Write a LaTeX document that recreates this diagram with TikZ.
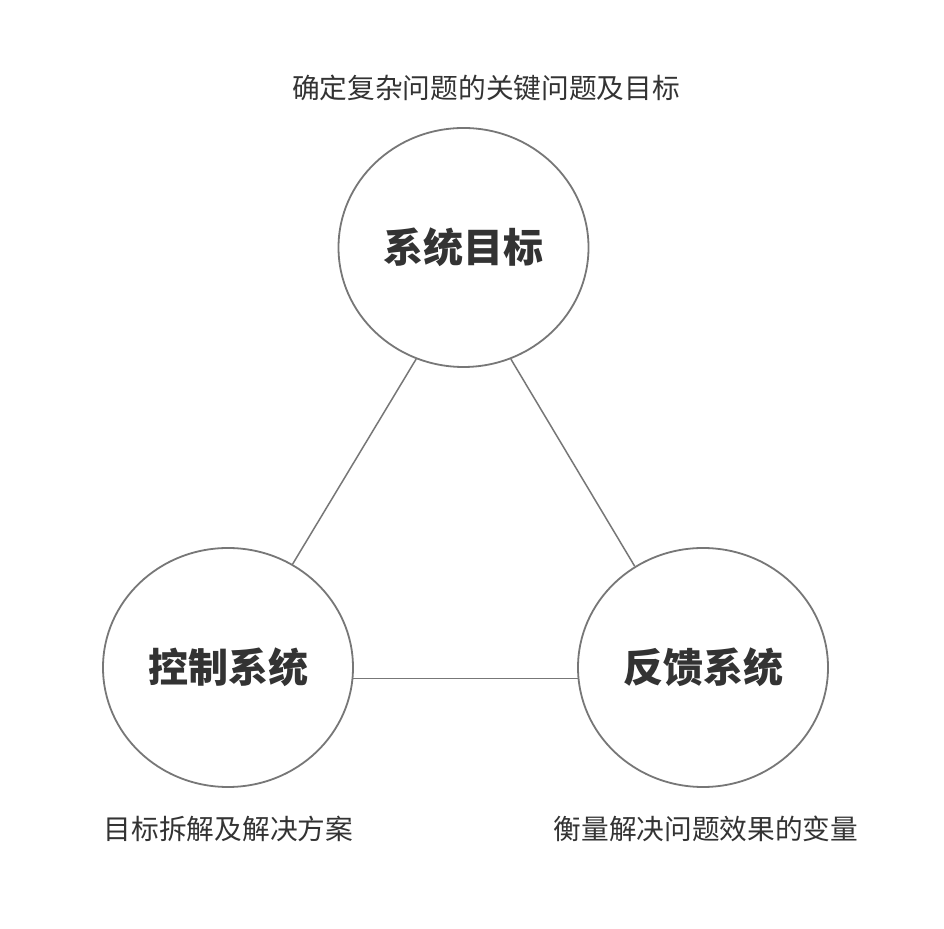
\documentclass[tikz,border=0pt]{standalone}
\usepackage{fontspec}
\newfontfamily\cjk{Noto Sans CJK SC}
\usetikzlibrary{shapes.geometric}

\definecolor{ringgray}{HTML}{777777}
\definecolor{textgray}{HTML}{333333}

\tikzset{
    sysnode/.style={ellipse, draw=ringgray, line width=1.8pt, minimum width=250pt, minimum height=239pt, inner sep=0pt, text=textgray, font=\cjk\bfseries\fontsize{40}{40}\selectfont},
    caption/.style={text=textgray, inner sep=0pt, font=\cjk\fontsize{27.7}{27.7}\selectfont},
    link/.style={ringgray, line width=1.5pt}
}

\begin{document}
\begin{tikzpicture}[x=1pt, y=1pt]
    % Canvas
    \fill[white] (0,0) rectangle (944,928);
    \useasboundingbox (0,0) rectangle (944,928);

    % The three systems
    \node[sysnode] (goal) at (463.5,680.5) {系统目标};
    \node[sysnode] (control) at (228,260.5) {控制系统};
    \node[sysnode] (feedback) at (703,260.5) {反馈系统};

    % Captions
    \node[caption] (goalcap) at (486,840) {确定复杂问题的关键问题及目标};
    \node[caption] (controlcap) at (228.5,99) {目标拆解及解决方案};
    \node[caption] (feedbackcap) at (706,99) {衡量解决问题效果的变量};

    % Links between systems
    \draw[link] (goal.247) -- (control.58);
    \draw[link] (goal.293) -- (feedback.124);
    \draw[link] (control.-5) -- (feedback.185);
\end{tikzpicture}
\end{document}
